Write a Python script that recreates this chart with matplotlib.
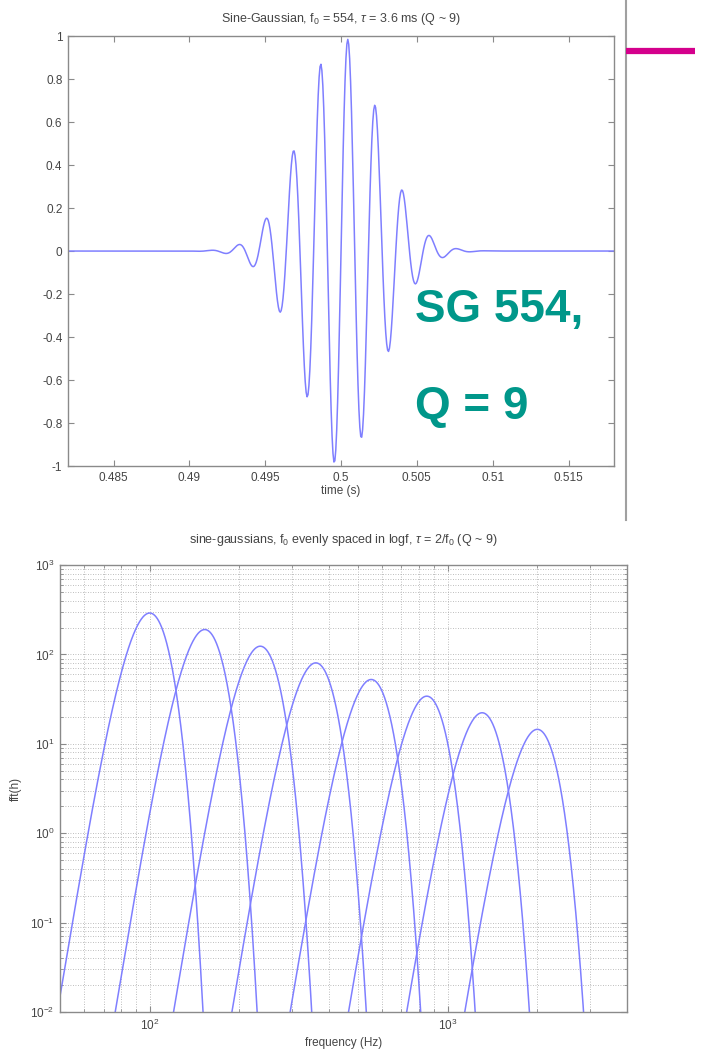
import numpy as np
import matplotlib
matplotlib.use("Agg")
import matplotlib.pyplot as plt
from matplotlib.lines import Line2D
from matplotlib.ticker import FormatStrFormatter, LogLocator, NullFormatter

plt.rcParams["font.family"] = ["Liberation Sans", "DejaVu Sans"]
plt.rcParams["mathtext.fontset"] = "custom"
plt.rcParams["mathtext.rm"] = "Liberation Sans"
plt.rcParams["mathtext.it"] = "Liberation Sans:italic"

# sine-gaussian parameters (from the titles)
fs = 16384.0          # sample rate, Hz
sg_f0 = 554.0         # central frequency of the single burst, Hz
sg_tau = 3.6e-3       # gaussian width, s
sg_t0 = 0.5           # burst centre, s

# central frequencies of the family, evenly spaced in log f
peak_freqs = [100, 153, 235, 361, 554, 851, 1305, 2000]

time_ticks = [0.485, 0.49, 0.495, 0.5, 0.505, 0.51, 0.515]
amp_ticks = [-1, -0.8, -0.6, -0.4, -0.2, 0, 0.2, 0.4, 0.6, 0.8, 1]
decades = [1e-2, 1e-1, 1e0, 1e1, 1e2, 1e3]

line_col = "#7f7fff"
axis_col = "#8a8a8a"
text_col = "#454545"

fig = plt.figure(figsize=(7.02, 10.51), dpi=100)

# ---- time series of the 554 Hz burst ----
ax1 = fig.add_axes([0.0969, 0.5566, 0.7778, 0.4091])
t = np.arange(0.48, 0.52, 1.0 / fs)
h = np.exp(-((t - sg_t0) / sg_tau) ** 2) * np.sin(2 * np.pi * sg_f0 * (t - sg_t0))
ax1.plot(t, h, color=line_col, lw=1.1)
ax1.set_xlim(0.482, 0.518)
ax1.set_ylim(-1, 1)
ax1.set_xticks(time_ticks)
ax1.set_yticks(amp_ticks)
ax1.xaxis.set_major_formatter(FormatStrFormatter("%g"))
ax1.yaxis.set_major_formatter(FormatStrFormatter("%g"))
ax1.set_xlabel("time (s)", fontsize=8.5, color=text_col, labelpad=1)
ax1.set_title(r"Sine-Gaussian, f$_0$ = 554, $\tau$ = 3.6 ms (Q ~ 9)",
              fontsize=9, color=text_col, pad=10)

# ---- spectra of the family ----
ax2 = fig.add_axes([0.0855, 0.0371, 0.8077, 0.4253])
f = np.linspace(40, 4200, 20000)
for f0 in peak_freqs:
    tau = 2.0 / f0
    spec = fs * np.sqrt(np.pi) * tau / 2 * np.exp(-(np.pi * tau * (f - f0)) ** 2)
    ax2.plot(f, spec, color=line_col, lw=1.1)
ax2.set_xscale("log")
ax2.set_yscale("log")
ax2.set_xlim(50, 4000)
ax2.set_ylim(1e-2, 1e3)
ax2.set_yticks(decades)
ax2.set_xticks([100, 1000])
ax2.xaxis.set_minor_locator(LogLocator(base=10, subs=np.arange(2, 10)))
ax2.yaxis.set_minor_locator(LogLocator(base=10, subs=np.arange(2, 10), numticks=20))
ax2.xaxis.set_minor_formatter(NullFormatter())
ax2.yaxis.set_minor_formatter(NullFormatter())
ax2.grid(True, which="both", ls=(0, (1, 2)), color="#a8a8a8", lw=0.6)
ax2.set_xlabel("frequency (Hz)", fontsize=8.5, color=text_col, labelpad=3)
ax2.set_ylabel("fft(h)", fontsize=8.5, color=text_col, labelpad=6)
ax2.set_title(r"sine-gaussians, f$_0$ evenly spaced in logf, $\tau$ = 2/f$_0$ (Q ~ 9)",
              fontsize=9, color=text_col, pad=16)

for ax in (ax1, ax2):
    for sp in ax.spines.values():
        sp.set_color(axis_col)
        sp.set_linewidth(1.0)
    ax.tick_params(which="both", direction="in", top=True, right=True,
                   colors=axis_col, labelcolor=text_col, labelsize=8.5, pad=4)
    ax.tick_params(which="major", length=4)
    ax.tick_params(which="minor", length=2)

# slide decorations
fig.text(0.591, 0.705, "SG 554,", fontsize=33, fontweight="bold",
         color="#00978a", va="center", ha="left")
fig.text(0.591, 0.613, "Q = 9", fontsize=33, fontweight="bold",
         color="#00978a", va="center", ha="left")
fig.add_artist(Line2D([0.8913, 0.8913], [1.0, 0.505], color="#a0a0a0", lw=1.5,
                      transform=fig.transFigure))
fig.add_artist(Line2D([0.8917, 0.990], [0.9515, 0.9515], color="#d4008c", lw=4.5,
                      transform=fig.transFigure, solid_capstyle="butt"))

fig.savefig("out.png", dpi=100)
